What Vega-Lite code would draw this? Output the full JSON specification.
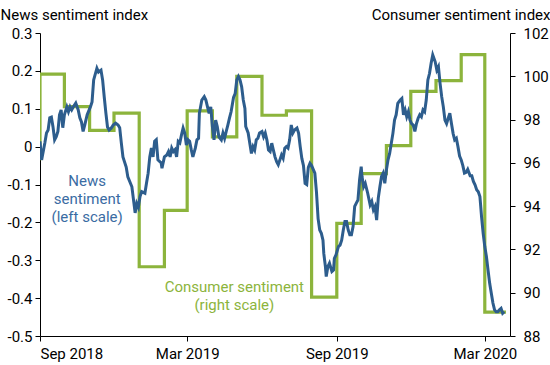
{
  "$schema": "https://vega.github.io/schema/vega-lite/v6.json",
  "width": 470,
  "height": 303,
  "autosize": {"type": "none"},
  "padding": {"left": 40, "top": 33, "right": 40, "bottom": 29},
  "config": {
    "font": "Roboto",
    "view": {"stroke": null},
    "axis": {"grid": false, "domainColor": "#000000", "tickColor": "#000000", "labelColor": "#000000", "titleColor": "#000000", "labelFontSize": 15, "titleFontSize": 15, "titleFontWeight": "normal", "tickSize": 5, "labelFont": "Roboto", "titleFont": "Roboto"}
  },
  "resolve": {"scale": {"y": "independent"}, "axis": {"y": "independent"}},
  "layer": [
    {
      "data": {"values": [
        {"d": "2018-08-01", "c": 96.2},
        {"d": "2018-09-01", "c": 100.1},
        {"d": "2018-10-01", "c": 98.6},
        {"d": "2018-11-01", "c": 97.5},
        {"d": "2018-12-01", "c": 98.3},
        {"d": "2019-01-01", "c": 91.2},
        {"d": "2019-02-01", "c": 93.8},
        {"d": "2019-03-01", "c": 98.4},
        {"d": "2019-04-01", "c": 97.2},
        {"d": "2019-05-01", "c": 100.0},
        {"d": "2019-06-01", "c": 98.2},
        {"d": "2019-07-01", "c": 98.4},
        {"d": "2019-08-01", "c": 89.8},
        {"d": "2019-09-01", "c": 93.2},
        {"d": "2019-10-01", "c": 95.5},
        {"d": "2019-11-01", "c": 96.8},
        {"d": "2019-12-01", "c": 99.3},
        {"d": "2020-01-01", "c": 99.8},
        {"d": "2020-02-01", "c": 101.0},
        {"d": "2020-03-01", "c": 89.1},
        {"d": "2020-03-27", "c": 89.1}
      ]},
      "mark": {"type": "line", "interpolate": "step-after", "clip": true, "color": "#8cb43c", "strokeWidth": 3.2},
      "encoding": {
        "x": {"field": "d", "type": "temporal",
          "scale": {"type": "utc", "domain": [{"year": 2018, "month": 9, "date": 1, "utc": true}, {"year": 2020, "month": 4, "date": 1, "utc": true}]},
          "axis": {"title": null, "format": "%b %Y", "labelPadding": 5, "domainColor": "#000000",
            "values": [{"year": 2018, "month": 9, "date": 1, "utc": true}, {"year": 2019, "month": 3, "date": 1, "utc": true}, {"year": 2019, "month": 9, "date": 1, "utc": true}, {"year": 2020, "month": 3, "date": 1, "utc": true}]}},
        "y": {"field": "c", "type": "quantitative",
          "scale": {"domain": [88, 102], "zero": false, "nice": false},
          "axis": {"orient": "right", "values": [88, 90, 92, 94, 96, 98, 100, 102], "labelPadding": 8,
            "title": "Consumer sentiment index", "titleAngle": 0, "titleAlign": "right", "titleBaseline": "middle", "titleX": 40, "titleY": -19}}
      }
    },
    {
      "data": {"values": [
        {"d": "2018-09-01", "v": 0.014}, {"d": "2018-09-03", "v": -0.035}, {"d": "2018-09-07", "v": 0.01}, {"d": "2018-09-09", "v": 0.036},
        {"d": "2018-09-11", "v": 0.044}, {"d": "2018-09-13", "v": 0.076}, {"d": "2018-09-15", "v": 0.078}, {"d": "2018-09-17", "v": 0.052},
        {"d": "2018-09-19", "v": 0.018}, {"d": "2018-09-21", "v": 0.026}, {"d": "2018-09-23", "v": 0.04}, {"d": "2018-09-25", "v": 0.084},
        {"d": "2018-09-27", "v": 0.097}, {"d": "2018-09-29", "v": 0.05}, {"d": "2018-10-01", "v": 0.084}, {"d": "2018-10-04", "v": 0.105},
        {"d": "2018-10-06", "v": 0.092}, {"d": "2018-10-08", "v": 0.105}, {"d": "2018-10-10", "v": 0.097}, {"d": "2018-10-12", "v": 0.105},
        {"d": "2018-10-15", "v": 0.115}, {"d": "2018-10-18", "v": 0.097}, {"d": "2018-10-20", "v": 0.076}, {"d": "2018-10-22", "v": 0.065},
        {"d": "2018-10-24", "v": 0.04}, {"d": "2018-10-26", "v": 0.057}, {"d": "2018-10-29", "v": 0.084}, {"d": "2018-11-02", "v": 0.105},
        {"d": "2018-11-04", "v": 0.118}, {"d": "2018-11-06", "v": 0.176}, {"d": "2018-11-10", "v": 0.207}, {"d": "2018-11-12", "v": 0.197},
        {"d": "2018-11-15", "v": 0.202}, {"d": "2018-11-17", "v": 0.176}, {"d": "2018-11-19", "v": 0.131}, {"d": "2018-11-21", "v": 0.089},
        {"d": "2018-11-23", "v": 0.052}, {"d": "2018-11-25", "v": 0.044}, {"d": "2018-11-28", "v": 0.05}, {"d": "2018-11-30", "v": 0.057},
        {"d": "2018-12-03", "v": 0.062}, {"d": "2018-12-06", "v": 0.057}, {"d": "2018-12-08", "v": 0.05}, {"d": "2018-12-10", "v": 0.01},
        {"d": "2018-12-12", "v": -0.027}, {"d": "2018-12-16", "v": -0.054}, {"d": "2018-12-18", "v": -0.08}, {"d": "2018-12-23", "v": -0.106},
        {"d": "2018-12-27", "v": -0.175}, {"d": "2018-12-29", "v": -0.15}, {"d": "2018-12-31", "v": -0.16}, {"d": "2019-01-02", "v": -0.132},
        {"d": "2019-01-04", "v": -0.119}, {"d": "2019-01-08", "v": -0.123}, {"d": "2019-01-10", "v": -0.096}, {"d": "2019-01-12", "v": -0.07},
        {"d": "2019-01-14", "v": -0.027}, {"d": "2019-01-16", "v": -0.004}, {"d": "2019-01-18", "v": -0.027}, {"d": "2019-01-20", "v": 0.014},
        {"d": "2019-01-22", "v": 0.018}, {"d": "2019-01-24", "v": -0.035}, {"d": "2019-01-28", "v": -0.043}, {"d": "2019-01-29", "v": -0.057},
        {"d": "2019-02-01", "v": -0.027}, {"d": "2019-02-04", "v": -0.022}, {"d": "2019-02-06", "v": -0.013}, {"d": "2019-02-08", "v": -0.027},
        {"d": "2019-02-10", "v": -0.004}, {"d": "2019-02-12", "v": -0.013}, {"d": "2019-02-14", "v": -0.008}, {"d": "2019-02-16", "v": -0.027},
        {"d": "2019-02-18", "v": 0.014}, {"d": "2019-02-20", "v": 0.01}, {"d": "2019-02-22", "v": 0.031}, {"d": "2019-02-24", "v": 0.049},
        {"d": "2019-02-26", "v": 0.036}, {"d": "2019-02-28", "v": 0.004}, {"d": "2019-03-02", "v": 0.018}, {"d": "2019-03-04", "v": 0.014},
        {"d": "2019-03-06", "v": -0.008}, {"d": "2019-03-08", "v": -0.027}, {"d": "2019-03-11", "v": -0.004}, {"d": "2019-03-13", "v": 0.018},
        {"d": "2019-03-15", "v": 0.022}, {"d": "2019-03-16", "v": 0.088}, {"d": "2019-03-19", "v": 0.123}, {"d": "2019-03-22", "v": 0.132},
        {"d": "2019-03-24", "v": 0.123}, {"d": "2019-03-26", "v": 0.105}, {"d": "2019-03-28", "v": 0.088}, {"d": "2019-03-30", "v": 0.105},
        {"d": "2019-04-01", "v": 0.053}, {"d": "2019-04-03", "v": 0.018}, {"d": "2019-04-05", "v": 0.07}, {"d": "2019-04-07", "v": 0.053},
        {"d": "2019-04-09", "v": 0.026}, {"d": "2019-04-12", "v": 0.018}, {"d": "2019-04-14", "v": 0.036}, {"d": "2019-04-16", "v": 0.022},
        {"d": "2019-04-18", "v": 0.04}, {"d": "2019-04-20", "v": 0.057}, {"d": "2019-04-22", "v": 0.075}, {"d": "2019-04-24", "v": 0.092},
        {"d": "2019-04-27", "v": 0.13}, {"d": "2019-04-29", "v": 0.14}, {"d": "2019-05-01", "v": 0.176}, {"d": "2019-05-03", "v": 0.185},
        {"d": "2019-05-05", "v": 0.176}, {"d": "2019-05-07", "v": 0.158}, {"d": "2019-05-09", "v": 0.123}, {"d": "2019-05-11", "v": 0.101},
        {"d": "2019-05-12", "v": 0.053}, {"d": "2019-05-15", "v": 0.036}, {"d": "2019-05-17", "v": 0.009}, {"d": "2019-05-19", "v": -0.018},
        {"d": "2019-05-21", "v": 0}, {"d": "2019-05-23", "v": -0.009}, {"d": "2019-05-25", "v": 0.018}, {"d": "2019-05-27", "v": 0.022},
        {"d": "2019-05-29", "v": 0.036}, {"d": "2019-06-01", "v": 0.04}, {"d": "2019-06-03", "v": 0.026}, {"d": "2019-06-05", "v": 0.036},
        {"d": "2019-06-07", "v": 0.018}, {"d": "2019-06-09", "v": -0.009}, {"d": "2019-06-11", "v": -0.013}, {"d": "2019-06-13", "v": 0.009},
        {"d": "2019-06-15", "v": -0.009}, {"d": "2019-06-17", "v": -0.027}, {"d": "2019-06-19", "v": -0.04}, {"d": "2019-06-21", "v": -0.048},
        {"d": "2019-06-23", "v": -0.035}, {"d": "2019-06-25", "v": -0.022}, {"d": "2019-06-27", "v": -0.031}, {"d": "2019-06-29", "v": -0.004},
        {"d": "2019-07-01", "v": 0}, {"d": "2019-07-03", "v": -0.004}, {"d": "2019-07-05", "v": 0.018}, {"d": "2019-07-07", "v": 0.057},
        {"d": "2019-07-09", "v": 0.036}, {"d": "2019-07-11", "v": 0.044}, {"d": "2019-07-14", "v": 0.049}, {"d": "2019-07-16", "v": 0.036},
        {"d": "2019-07-18", "v": 0}, {"d": "2019-07-20", "v": -0.031}, {"d": "2019-07-22", "v": -0.05}, {"d": "2019-07-24", "v": -0.097},
        {"d": "2019-07-26", "v": -0.1}, {"d": "2019-07-28", "v": -0.055}, {"d": "2019-07-30", "v": -0.044}, {"d": "2019-08-01", "v": -0.05},
        {"d": "2019-08-03", "v": -0.06}, {"d": "2019-08-05", "v": -0.07}, {"d": "2019-08-07", "v": -0.12}, {"d": "2019-08-09", "v": -0.19},
        {"d": "2019-08-11", "v": -0.22}, {"d": "2019-08-13", "v": -0.229}, {"d": "2019-08-15", "v": -0.247}, {"d": "2019-08-16", "v": -0.282},
        {"d": "2019-08-18", "v": -0.317}, {"d": "2019-08-19", "v": -0.343}, {"d": "2019-08-21", "v": -0.317}, {"d": "2019-08-23", "v": -0.308},
        {"d": "2019-08-26", "v": -0.33}, {"d": "2019-08-28", "v": -0.326}, {"d": "2019-08-29", "v": -0.295}, {"d": "2019-08-31", "v": -0.286},
        {"d": "2019-09-03", "v": -0.264}, {"d": "2019-09-05", "v": -0.26}, {"d": "2019-09-07", "v": -0.247}, {"d": "2019-09-09", "v": -0.22},
        {"d": "2019-09-11", "v": -0.198}, {"d": "2019-09-13", "v": -0.198}, {"d": "2019-09-15", "v": -0.22}, {"d": "2019-09-17", "v": -0.233},
        {"d": "2019-09-19", "v": -0.233}, {"d": "2019-09-21", "v": -0.211}, {"d": "2019-09-23", "v": -0.158}, {"d": "2019-09-25", "v": -0.149},
        {"d": "2019-09-27", "v": -0.141}, {"d": "2019-09-29", "v": -0.088}, {"d": "2019-10-01", "v": -0.053}, {"d": "2019-10-02", "v": -0.079},
        {"d": "2019-10-04", "v": -0.106}, {"d": "2019-10-06", "v": -0.097}, {"d": "2019-10-09", "v": -0.123}, {"d": "2019-10-12", "v": -0.154},
        {"d": "2019-10-14", "v": -0.145}, {"d": "2019-10-16", "v": -0.167}, {"d": "2019-10-18", "v": -0.158}, {"d": "2019-10-20", "v": -0.194},
        {"d": "2019-10-22", "v": -0.136}, {"d": "2019-10-24", "v": -0.106}, {"d": "2019-10-26", "v": -0.079}, {"d": "2019-10-28", "v": -0.07},
        {"d": "2019-10-30", "v": -0.097}, {"d": "2019-11-01", "v": -0.062}, {"d": "2019-11-03", "v": -0.035}, {"d": "2019-11-05", "v": -0.018},
        {"d": "2019-11-09", "v": 0.035}, {"d": "2019-11-11", "v": 0.07}, {"d": "2019-11-13", "v": 0.084}, {"d": "2019-11-15", "v": 0.114},
        {"d": "2019-11-18", "v": 0.123}, {"d": "2019-11-20", "v": 0.127}, {"d": "2019-11-22", "v": 0.084}, {"d": "2019-11-24", "v": 0.097},
        {"d": "2019-11-26", "v": 0.079}, {"d": "2019-11-28", "v": 0.092}, {"d": "2019-11-30", "v": 0.07}, {"d": "2019-12-02", "v": 0.061},
        {"d": "2019-12-04", "v": 0.057}, {"d": "2019-12-06", "v": 0.04}, {"d": "2019-12-08", "v": 0.061}, {"d": "2019-12-10", "v": 0.075},
        {"d": "2019-12-12", "v": 0.084}, {"d": "2019-12-14", "v": 0.079}, {"d": "2019-12-16", "v": 0.097}, {"d": "2019-12-18", "v": 0.092},
        {"d": "2019-12-20", "v": 0.123}, {"d": "2019-12-22", "v": 0.176}, {"d": "2019-12-24", "v": 0.193}, {"d": "2019-12-26", "v": 0.22},
        {"d": "2019-12-28", "v": 0.242}, {"d": "2019-12-31", "v": 0.224}, {"d": "2020-01-02", "v": 0.202}, {"d": "2020-01-04", "v": 0.211},
        {"d": "2020-01-06", "v": 0.167}, {"d": "2020-01-08", "v": 0.132}, {"d": "2020-01-10", "v": 0.105}, {"d": "2020-01-12", "v": 0.07},
        {"d": "2020-01-14", "v": 0.061}, {"d": "2020-01-16", "v": 0.075}, {"d": "2020-01-18", "v": 0.088}, {"d": "2020-01-20", "v": 0.061},
        {"d": "2020-01-22", "v": 0.035}, {"d": "2020-01-24", "v": 0.018}, {"d": "2020-01-26", "v": 0.022}, {"d": "2020-01-28", "v": 0},
        {"d": "2020-01-30", "v": -0.025}, {"d": "2020-02-01", "v": -0.035}, {"d": "2020-02-03", "v": -0.05}, {"d": "2020-02-05", "v": -0.07},
        {"d": "2020-02-07", "v": -0.068}, {"d": "2020-02-09", "v": -0.06}, {"d": "2020-02-12", "v": -0.077}, {"d": "2020-02-14", "v": -0.077},
        {"d": "2020-02-16", "v": -0.092}, {"d": "2020-02-18", "v": -0.101}, {"d": "2020-02-20", "v": -0.114}, {"d": "2020-02-22", "v": -0.119},
        {"d": "2020-02-24", "v": -0.132}, {"d": "2020-02-25", "v": -0.158}, {"d": "2020-02-26", "v": -0.185}, {"d": "2020-02-28", "v": -0.229},
        {"d": "2020-03-01", "v": -0.264}, {"d": "2020-03-03", "v": -0.29}, {"d": "2020-03-05", "v": -0.326}, {"d": "2020-03-07", "v": -0.361},
        {"d": "2020-03-09", "v": -0.387}, {"d": "2020-03-11", "v": -0.413}, {"d": "2020-03-13", "v": -0.431}, {"d": "2020-03-15", "v": -0.436},
        {"d": "2020-03-17", "v": -0.436}, {"d": "2020-03-19", "v": -0.431}, {"d": "2020-03-21", "v": -0.427}, {"d": "2020-03-23", "v": -0.44},
        {"d": "2020-03-25", "v": -0.436}
      ]},
      "mark": {"type": "line", "color": "#2d5d8d", "strokeWidth": 3, "clip": true},
      "encoding": {
        "x": {"field": "d", "type": "temporal"},
        "y": {"field": "v", "type": "quantitative",
          "scale": {"domain": [-0.5, 0.3], "zero": false, "nice": false},
          "axis": {"orient": "left", "values": [-0.5, -0.4, -0.3, -0.2, -0.1, 0, 0.1, 0.2, 0.3], "labelExpr": "'' + datum.value", "labelPadding": 3,
            "title": "News sentiment index", "titleAngle": 0, "titleAlign": "left", "titleBaseline": "middle", "titleX": -40, "titleY": -19}}
      }
    },
    {
      "data": {"values": [{}]},
      "mark": {"type": "text", "color": "#3a6ca3", "fontSize": 15, "lineHeight": 18, "align": "center", "baseline": "middle", "font": "Roboto"},
      "encoding": {
        "x": {"datum": {"year": 2018, "month": 10, "date": 29, "utc": true}, "type": "temporal"},
        "y": {"datum": -0.09, "type": "quantitative", "scale": {"domain": [-0.5, 0.3], "zero": false, "nice": false}, "axis": null},
        "text": {"value": ["News", "sentiment", "(left scale)"]}
      }
    },
    {
      "data": {"values": [{}]},
      "mark": {"type": "text", "color": "#8cb43c", "fontSize": 15, "lineHeight": 18, "align": "center", "baseline": "middle", "font": "Roboto"},
      "encoding": {
        "x": {"datum": {"year": 2019, "month": 4, "date": 28, "utc": true}, "type": "temporal"},
        "y": {"datum": 90.28, "type": "quantitative", "scale": {"domain": [88, 102], "zero": false, "nice": false}, "axis": null},
        "text": {"value": ["Consumer sentiment", "(right scale)"]}
      }
    }
  ]
}
